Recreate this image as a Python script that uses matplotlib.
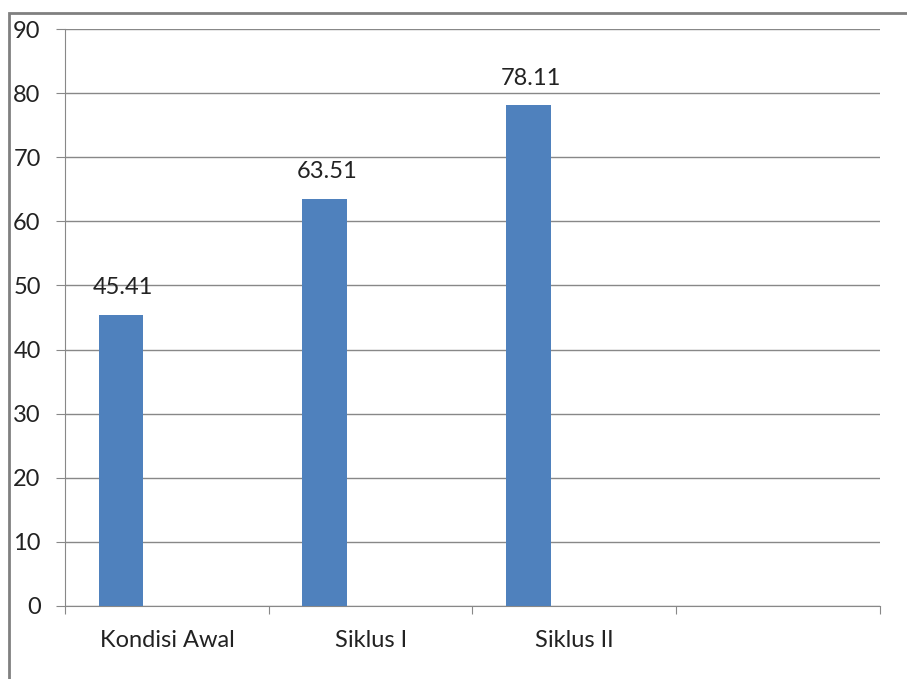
import matplotlib.pyplot as plt
from matplotlib.patches import Rectangle

categories = ["Kondisi Awal", "Siklus I", "Siklus II", ""]
values = [45.41, 63.51, 78.11]
y_ticks = [0, 10, 20, 30, 40, 50, 60, 70, 80, 90]

plt.rcParams['font.family'] = ['Lato', 'DejaVu Sans']
fs = 17

fig = plt.figure(figsize=(9.07, 6.79), dpi=100)
# grey frame round the chart area (runs off the right/bottom edge)
fig.patches.append(Rectangle((9 / 907, -0.05), 1.2, 1 - 13 / 679 + 0.05,
                             transform=fig.transFigure, fill=False,
                             edgecolor='#808080', linewidth=2))

ax = fig.add_axes([65 / 907, 1 - 606 / 679, 815 / 907, 577 / 679])

grid_color = '#888888'
bar_pos = [i + 0.275 for i in range(len(values))]
ax.bar(bar_pos, values, width=0.22, color='#4f81bd', zorder=3)
for x, v in zip(bar_pos, values):
    ax.text(x + 0.01, v + 2.6, f"{v:.2f}", ha='center', va='bottom', fontsize=fs,
            color='#222222')

ax.set_xlim(0, len(categories))
ax.set_ylim(0, 90)
ax.set_yticks(y_ticks)
ax.set_yticklabels([str(t) for t in y_ticks], fontsize=fs, color='#222222')
ax.yaxis.grid(True, color=grid_color, linewidth=1)
ax.tick_params(axis='y', length=6.5, color=grid_color, pad=11)

ax.set_xticks(range(len(categories) + 1))
ax.set_xticklabels([])
ax.tick_params(axis='x', length=6, color=grid_color)
for i, c in enumerate(categories):
    ax.text(i + 0.5, -3.8, c, ha='center', va='top', fontsize=fs,
            color='#222222')

for s in ['top', 'right']:
    ax.spines[s].set_visible(False)
for s in ['left', 'bottom']:
    ax.spines[s].set_color(grid_color)

fig.savefig("out.png", dpi=100)
